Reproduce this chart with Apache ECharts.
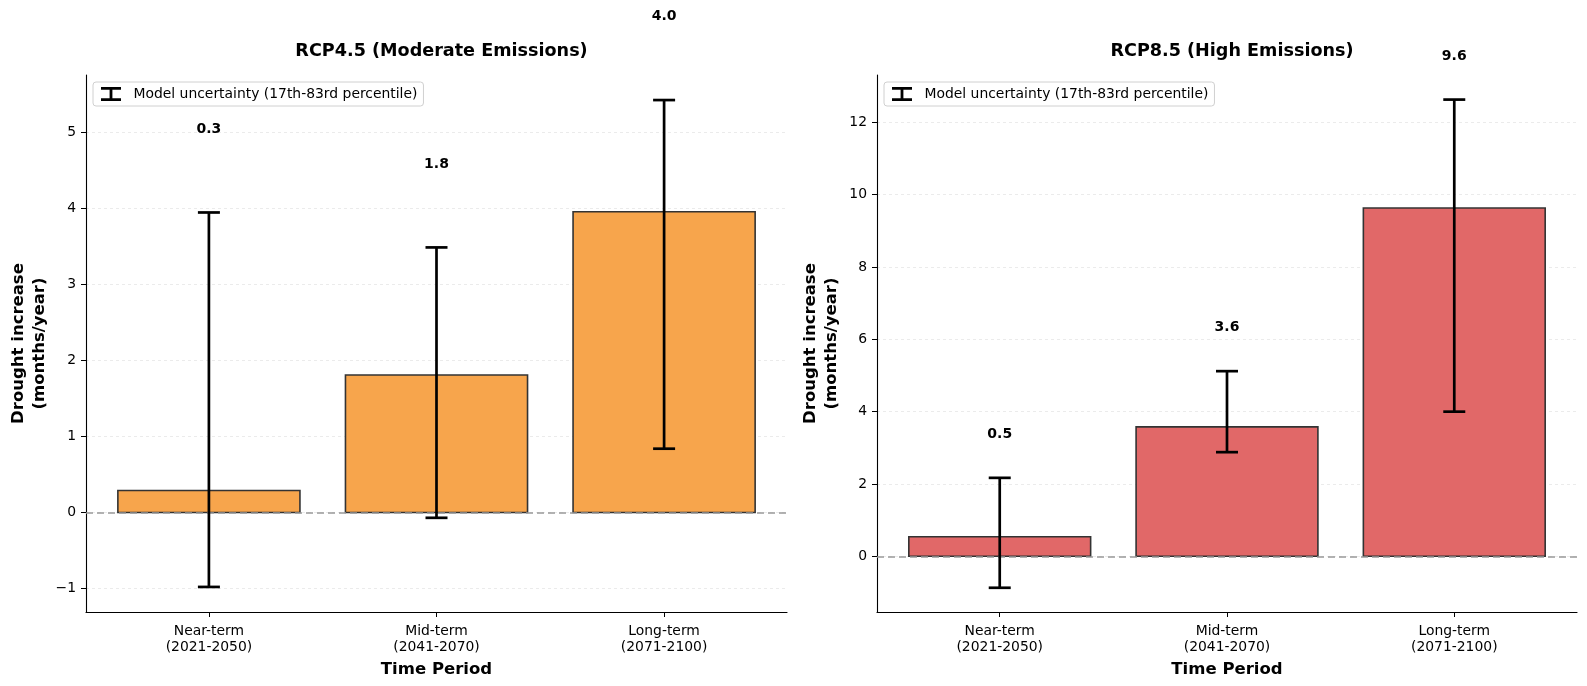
<!DOCTYPE html>
<html>
<head>
<meta charset="utf-8">
<script src="https://cdn.jsdelivr.net/npm/echarts@6/dist/echarts.min.js"></script>
<style>html,body{margin:0;padding:0;background:#fff;}#chart{width:1587px;height:686px;}</style>
</head>
<body>
<div id="chart"></div>
<script>
const categories = ['Near-term\n(2021-2050)', 'Mid-term\n(2041-2070)', 'Long-term\n(2071-2100)'];
const categoryPos = [0, 1, 2];
const rcp45Mean = [0.29, 1.81, 3.96];
const rcp45Low = [-0.98, -0.07, 0.84];
const rcp45High = [3.95, 3.49, 5.43];
const rcp85Mean = [0.54, 3.58, 9.63];
const rcp85Low = [-0.87, 2.88, 4.00];
const rcp85High = [2.17, 5.12, 12.63];
const leftTicks = [-1, 0, 1, 2, 3, 4, 5];
const rightTicks = [0, 2, 4, 6, 8, 10, 12];
const legendName = 'Model uncertainty (17th-83rd percentile)';

const FONT = 'DejaVu Sans';
const chart = echarts.init(document.getElementById('chart'));

function fmtTick(v) { return v < 0 ? '\u2212' + Math.abs(v) : String(v); }

function xAxisCfg(gi) {
  return {
    type: 'value', gridIndex: gi, min: -0.54, max: 2.54,
    name: 'Time Period', nameLocation: 'middle', nameGap: 49,
    nameTextStyle: { fontFamily: FONT, fontSize: 16.5, fontWeight: 'bold', color: '#000' },
    axisLine: { show: true, onZero: false, lineStyle: { color: '#000', width: 1.1 } },
    axisTick: { show: true, customValues: categoryPos, length: 5, lineStyle: { color: '#000' } },
    axisLabel: { customValues: categoryPos, fontFamily: FONT, fontSize: 13.9, color: '#000', lineHeight: 16.5, margin: 11,
      formatter: v => categories[Math.round(v)] },
    splitLine: { show: false }
  };
}
function yAxisCfg(gi, min, max, ticks, gap) {
  return {
    type: 'value', gridIndex: gi, min: min, max: max,
    name: 'Drought increase\n(months/year)', nameLocation: 'middle', nameGap: gap, nameRotate: 90,
    nameTextStyle: { fontFamily: FONT, fontSize: 16.5, fontWeight: 'bold', color: '#000', lineHeight: 21 },
    axisLine: { show: true, onZero: false, lineStyle: { color: '#000', width: 1.1 } },
    axisTick: { show: true, customValues: ticks, length: 5, lineStyle: { color: '#000' } },
    axisLabel: { customValues: ticks, fontFamily: FONT, fontSize: 13.9, color: '#000', margin: 10, formatter: fmtTick },
    splitLine: { show: true, lineStyle: { color: '#ebebeb', type: [3, 3], width: 1 } }
  };
}

function barSeries(gi, mean, color) {
  return {
    type: 'custom', xAxisIndex: gi, yAxisIndex: gi, z: 2,
    data: categoryPos.map((p, i) => [p, mean[i]]),
    renderItem: function (params, api) {
      const x = api.value(0), v = api.value(1);
      const p1 = api.coord([x - 0.4, v]);
      const p2 = api.coord([x + 0.4, 0]);
      return {
        type: 'rect',
        shape: { x: p1[0], y: Math.min(p1[1], p2[1]), width: p2[0] - p1[0], height: Math.abs(p2[1] - p1[1]) },
        style: { fill: color, stroke: '#333333', lineWidth: 1.6 }
      };
    },
    markLine: {
      silent: true, symbol: 'none', label: { show: false },
      lineStyle: { color: '#999999', type: [7, 4], width: 1.5 },
      data: [{ yAxis: 0 }]
    }
  };
}

function errSeries(gi, low, high) {
  return {
    type: 'custom', name: legendName, xAxisIndex: gi, yAxisIndex: gi, z: 5,
    itemStyle: { color: '#000' },
    data: categoryPos.map((p, i) => [p, low[i], high[i]]),
    renderItem: function (params, api) {
      const x = api.value(0);
      const lo = api.coord([x, api.value(1)]);
      const hi = api.coord([x, api.value(2)]);
      const cw = 11;
      const st = { stroke: '#000', lineWidth: 2.7 };
      return {
        type: 'group',
        children: [
          { type: 'line', shape: { x1: lo[0], y1: lo[1], x2: hi[0], y2: hi[1] }, style: st },
          { type: 'line', shape: { x1: lo[0] - cw, y1: lo[1], x2: lo[0] + cw, y2: lo[1] }, style: st },
          { type: 'line', shape: { x1: hi[0] - cw, y1: hi[1], x2: hi[0] + cw, y2: hi[1] }, style: st }
        ]
      };
    }
  };
}

function labelSeries(gi, mean, high, offset) {
  return {
    type: 'custom', xAxisIndex: gi, yAxisIndex: gi, z: 6, clip: false,
    data: categoryPos.map((p, i) => [p, high[i] + offset, mean[i]]),
    renderItem: function (params, api) {
      const pt = api.coord([api.value(0), api.value(1)]);
      return {
        type: 'text',
        style: { x: pt[0], y: pt[1], text: api.value(2).toFixed(1), align: 'center', verticalAlign: 'middle',
          font: 'bold 14px "DejaVu Sans"', fill: '#000' }
      };
    }
  };
}

const iconPath = 'path://M0,0 L20,0 L20,2.8 L11.4,2.8 L11.4,11.2 L20,11.2 L20,14 L0,14 L0,11.2 L8.6,11.2 L8.6,2.8 L0,2.8 Z';

function legendCfg(left) {
  return {
    data: [{ name: legendName, icon: iconPath }],
    left: left, top: 82, orient: 'vertical',
    itemWidth: 21, itemHeight: 14, itemGap: 5,
    padding: [5, 6, 5, 8],
    borderColor: '#d0d0d0', borderWidth: 1, borderRadius: 3, backgroundColor: '#fff',
    textStyle: { fontFamily: FONT, fontSize: 13.9, color: '#000', padding: [0, 0, 0, 7] },
    selectedMode: false
  };
}

const option = {
  backgroundColor: '#fff',
  animation: false,
  title: [
    { text: 'RCP4.5 (Moderate Emissions)', left: 436.5, top: 37, textAlign: 'center',
      textStyle: { fontFamily: FONT, fontSize: 17.6, fontWeight: 'bold', color: '#000' } },
    { text: 'RCP8.5 (High Emissions)', left: 1227, top: 37, textAlign: 'center',
      textStyle: { fontFamily: FONT, fontSize: 17.6, fontWeight: 'bold', color: '#000' } }
  ],
  legend: [legendCfg(93), legendCfg(884)],
  grid: [
    { left: 86, top: 75, width: 701, height: 537 },
    { left: 877, top: 75, width: 700, height: 537 }
  ],
  xAxis: [xAxisCfg(0), xAxisCfg(1)],
  yAxis: [yAxisCfg(0, -1.31, 5.76, leftTicks, 36), yAxisCfg(1, -1.54, 13.31, rightTicks, 35)],
  series: [
    barSeries(0, rcp45Mean, '#F7A54C'),
    errSeries(0, rcp45Low, rcp45High),
    labelSeries(0, rcp45Mean, rcp45High, 1.1),
    barSeries(1, rcp85Mean, '#E16868'),
    errSeries(1, rcp85Low, rcp85High),
    labelSeries(1, rcp85Mean, rcp85High, 1.2)
  ]
};
chart.setOption(option);
</script>
</body>
</html>
